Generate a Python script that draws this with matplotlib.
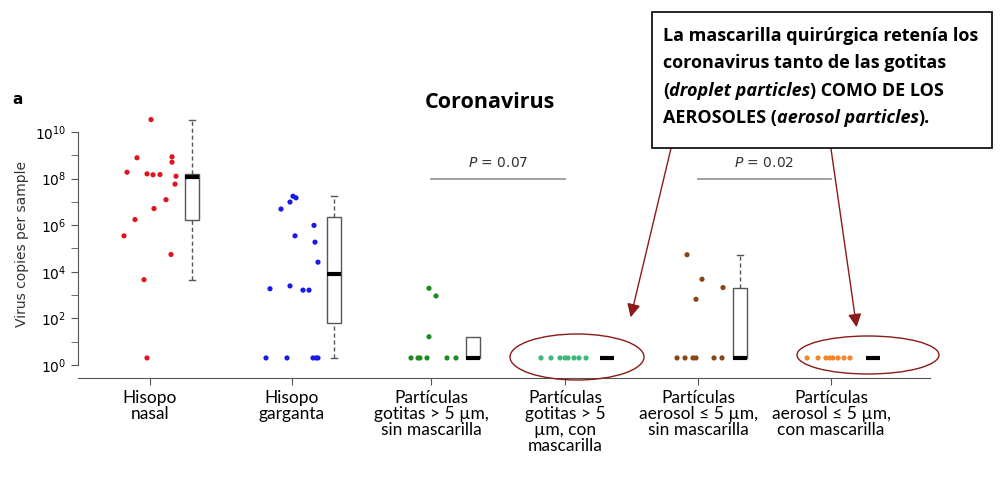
import matplotlib
matplotlib.use("Agg")
import matplotlib.pyplot as plt
from matplotlib.patches import Ellipse, FancyArrowPatch, Rectangle
import numpy as np

# category positions (pixel-like units along x) and labels
cat_x = [150, 292, 431, 565, 698, 831]
cat_labels = ["Hisopo\nnasal", "Hisopo\ngarganta",
              "Partículas\ngotitas > 5 µm,\nsin mascarilla",
              "Partículas\ngotitas > 5\nµm, con\nmascarilla",
              "Partículas\naerosol ≤ 5 µm,\nsin mascarilla",
              "Partículas\naerosol ≤ 5 µm,\ncon mascarilla"]
colors = ["#e0141e", "#1a1ae6", "#1f8a1f", "#3cb878", "#8b4513", "#f7862a"]

# log10 virus copies, with horizontal jitter offsets
nasal_log = [5.54, 8.27, 6.24, 8.89, 3.66, 0.3, 8.2, 10.53, 8.16, 6.71, 8.17, 7.09, 4.74, 8.7, 8.93, 7.76, 8.1]
nasal_dx = [-26, -23, -15, -13, -6, -3, -3, 1, 3, 4, 10, 16, 21, 22, 22, 25, 26]
throat_log = [0.3, 3.27, 6.69, 0.3, 3.39, 6.99, 7.24, 5.54, 7.17, 3.21, 3.21, 5.99, 5.27, 0.3, 0.3, 0.3, 4.41]
throat_dx = [-26, -22, -11, -5, -2, -2, 1, 3, 4, 11, 17, 22, 23, 21, 24, 26, 26]
drop_log = [0.3, 0.3, 0.3, 0.3, 0.3, 0.3, 3.29, 2.96, 1.21]
drop_dx = [-20, -13, -11, -4, 16, 25, -2, 5, -2]
drop_mask_log = [0.3] * 8
drop_mask_dx = [-24, -14, -5, 0, 3, 9, 14, 21]
aer_log = [0.3, 0.3, 0.3, 0.3, 0.3, 0.3, 4.73, 3.68, 2.82, 3.32]
aer_dx = [-21, -13, -5, -2, 16, 24, -11, 4, -2, 25]
aer_mask_log = [0.3] * 8
aer_mask_dx = [-24, -13, -5, -1, 2, 7, 13, 19]
series_log = [nasal_log, throat_log, drop_log, drop_mask_log, aer_log, aer_mask_log]
series_dx = [nasal_dx, throat_dx, drop_dx, drop_mask_dx, aer_dx, aer_mask_dx]

# box stats (log10): q1, median, q3, whisker low, whisker high
box_stats = [(6.24, 8.05, 8.2, 3.66, 10.53),
             (1.79, 3.91, 6.34, 0.3, 7.23),
             (0.3, 0.3, 1.21, 0.3, 1.21),
             (0.3, 0.3, 0.3, 0.3, 0.3),
             (0.3, 0.3, 3.32, 0.3, 4.73),
             (0.3, 0.3, 0.3, 0.3, 0.3)]
box_dx = 42
p_values = ["0.07", "0.02"]
p_pairs = [(2, 3), (4, 5)]

fig = plt.figure(figsize=(10.05, 4.84), dpi=100)
W, H = 1005, 484
ax = fig.add_axes([78 / W, (H - 378) / H, (930 - 78) / W, (378 - 110) / H])
ax.set_xlim(78, 930)
ax.set_yscale("log")
ax.set_ylim(10 ** -0.56, 10 ** 10.94)

for i, (vals, dxs, c) in enumerate(zip(series_log, series_dx, colors)):
    xs = [cat_x[i] + d for d in dxs]
    ax.scatter(xs, 10 ** np.array(vals), s=14, color=c, edgecolors="none", zorder=3)
    q1, med, q3, lo, hi = box_stats[i]
    bx = cat_x[i] + box_dx
    if q3 > q1:
        ax.add_patch(Rectangle((bx - 7, 10 ** q1), 14, 10 ** q3 - 10 ** q1,
                               facecolor="white", edgecolor="#555555", lw=1, zorder=2))
    if hi > q3:
        ax.plot([bx, bx], [10 ** q3, 10 ** hi], ls=(0, (3, 2)), color="#555555", lw=1)
        ax.plot([bx - 3, bx + 3], [10 ** hi] * 2, color="#555555", lw=1)
    if lo < q1:
        ax.plot([bx, bx], [10 ** lo, 10 ** q1], ls=(0, (3, 2)), color="#555555", lw=1)
        ax.plot([bx - 3, bx + 3], [10 ** lo] * 2, color="#555555", lw=1)
    ax.plot([bx - 7, bx + 7], [10 ** med] * 2, color="black", lw=3, solid_capstyle="butt", zorder=4)

for (a, b), p in zip(p_pairs, p_values):
    ax.plot([cat_x[a], cat_x[b]], [10 ** 8.0] * 2, color="#999999", lw=1.3)
    ax.text((cat_x[a] + cat_x[b]) / 2, 10 ** 8.35, f"$P$ = {p}", ha="center",
            va="bottom", fontsize=10, color="#333333")

ax.set_yticks([10 ** k for k in range(0, 11, 2)])
ax.set_yticklabels([f"$10^{{{k}}}$" for k in range(0, 11, 2)], fontsize=10)
ax.set_yticks([10 ** k for k in range(1, 11, 2)], minor=True)
ax.yaxis.set_minor_formatter(plt.NullFormatter())
ax.tick_params(axis="y", which="both", length=5, color="#555555")
ax.set_xticks(cat_x)
ax.set_xticklabels([])
ax.tick_params(axis="x", length=5, direction="out", color="#555555")
for s in ["top", "right"]:
    ax.spines[s].set_visible(False)
ax.spines["left"].set_bounds(1, 1e10)
ax.spines["left"].set_color("#555555")
ax.spines["bottom"].set_color("#555555")
ax.set_ylabel("Virus copies per sample", fontsize=10, color="#333333", labelpad=4)

for x, lab in zip(cat_x, cat_labels):
    fig.text(x / W, 1 - 390 / H, lab, ha="center", va="top", fontsize=12.5,
             family="Lato", linespacing=1.0)

fig.text(490 / W, 1 - 102 / H, "Coronavirus", ha="center", va="center",
         fontsize=15.5, fontweight="bold", family="Open Sans")
fig.text(12 / W, 1 - 100 / H, "a", fontsize=11, fontweight="bold", va="center")

# ellipses around masked samples
for cx, cy, w, h in [(577, 357, 134, 46), (868, 355, 142, 38)]:
    e = Ellipse((cx / W, 1 - cy / H), w / W, h / H, transform=fig.transFigure,
                fill=False, edgecolor="#8b1a1a", lw=1)
    fig.add_artist(e)

# arrows
for (x0, y0), (x1, y1) in [((683, 98), (630, 320)), ((826, 114), (857, 330))]:
    arr = FancyArrowPatch((x0 / W, 1 - y0 / H), (x1 / W, 1 - y1 / H), transform=fig.transFigure,
                          arrowstyle="-|>,head_width=4,head_length=8", color="#8b1a1a", lw=1)
    fig.add_artist(arr)

# annotation box with mixed bold / bold-italic text
fig.add_artist(Rectangle((652 / W, 1 - 148 / H), 340 / W, 136 / H, transform=fig.transFigure,
                         facecolor="white", edgecolor="black", lw=1.2, zorder=5))
lines = [[("La mascarilla quirúrgica retenía los", "normal")],
         [("coronavirus tanto de las gotitas", "normal")],
         [("(", "normal"), ("droplet particles", "italic"), (") COMO DE LOS", "normal")],
         [("AEROSOLES (", "normal"), ("aerosol particles", "italic"), (").", "normal")]]
renderer = fig.canvas.get_renderer()
for li, segs in enumerate(lines):
    x = 663 / W
    y = 1 - (36 + li * 27.5) / H
    for txt, style in segs:
        t = fig.text(x, y, txt, fontsize=13, fontweight="bold", style=style,
                     family="Open Sans", va="center", zorder=6)
        bb = t.get_window_extent(renderer)
        x += bb.width / W

fig.savefig("out.png", dpi=100)
